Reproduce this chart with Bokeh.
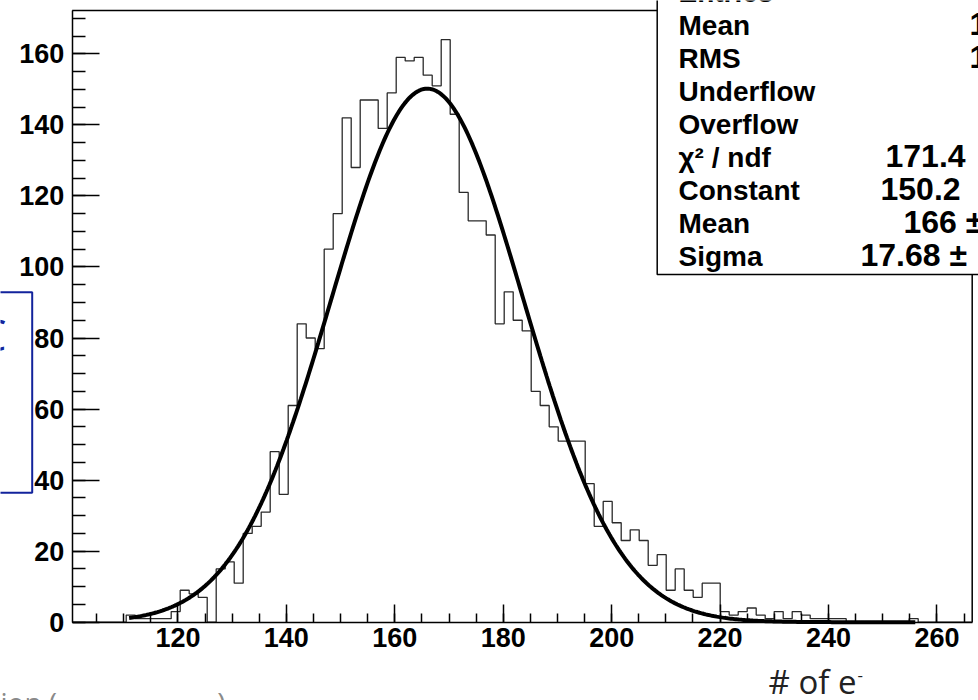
import numpy as np
from bokeh.plotting import figure
from bokeh.models import FixedTicker, Label, BoxAnnotation, Range1d
from bokeh.embed import file_html
from bokeh.resources import INLINE

# ---------------- data ----------------
xmin, xmax, nbins = 100.5, 266.5, 100
counts = [0, 0, 0, 0, 0, 0, 2, 1, 1, 1,
          1, 3, 9, 8, 7, 0, 15, 17, 11, 25,
          27, 31, 48, 36, 61, 84, 80, 77, 105, 115,
          142, 128, 147, 147, 139, 149, 159, 158, 159, 154,
          151, 164, 143, 121, 113, 113, 109, 84, 93, 85,
          82, 65, 61, 55, 51, 51, 51, 39, 27, 34,
          28, 23, 26, 23, 16, 19, 9, 15, 9, 7,
          11, 11, 3, 2, 3, 4, 2, 1, 3, 1,
          3, 2, 1, 1, 1, 1, 0, 0, 0, 0,
          0, 0, 0, 1, 0, 0, 0, 0, 0, 0]
fit_const, fit_mean, fit_sigma = 150.2, 166.0, 17.68
fit_lo, fit_hi = 111.0, 256.0
y_top = 172.2
x_major = [120, 140, 160, 180, 200, 220, 240, 260]
x_minor = list(range(105, 270, 5))
y_major = [0, 20, 40, 60, 80, 100, 120, 140, 160]
y_minor = list(range(0, 175, 5))
stat_names = ["Entries", "Mean", "RMS", "Underflow", "Overflow",
              "\u03c7\u00b2 / ndf", "Constant", "Mean", "Sigma"]
stat_values = ["", "1", "1", "", "", "171.4", "150.2", "166 \u00b1", "17.68 \u00b1"]
x_title = "# of e"
caption = "ion (" + "\u00a0" * 22 + ")"

# ---------------- layout (pixels) ----------------
W, H = 978, 700
PL, PR, PT, PB = 71.7, 971.7, 10.0, 621.7
sx = (xmax - xmin) / (PR - PL)
sy = y_top / (PB - PT)
x_start, x_end = xmin - PL * sx, xmax + (W - PR) * sx
y_start, y_end = -(H - PB) * sy, y_top + PT * sy


def X(px):
    return x_start + px * sx


def Y(py):
    return y_end - py * sy


p = figure(width=W, height=H, x_range=Range1d(x_start, x_end), y_range=Range1d(y_start, y_end),
           output_backend="svg", toolbar_location=None, min_border=0,
           min_border_left=0, min_border_right=0, min_border_top=0, min_border_bottom=0)
p.title.visible = False
p.grid.visible = False
p.background_fill_color = "white"
p.border_fill_color = "white"
p.outline_line_color = None

FONT = "Liberation Sans"
for ax in (p.xaxis[0], p.yaxis[0]):
    ax.axis_line_width = 1.5
    ax.axis_line_color = "black"
    ax.major_tick_line_width = 1.5
    ax.minor_tick_line_width = 1.5
    ax.major_tick_line_color = "black"
    ax.minor_tick_line_color = "black"
    ax.major_tick_out = 0
    ax.minor_tick_out = 0
    ax.major_label_text_font = FONT
    ax.major_label_text_font_style = "bold"
    ax.major_label_text_font_size = "27px"
    ax.major_label_text_color = "black"

p.xaxis.ticker = FixedTicker(ticks=x_major, minor_ticks=x_minor)
p.yaxis.ticker = FixedTicker(ticks=y_major, minor_ticks=y_minor)
p.xaxis.fixed_location = 0
p.yaxis.fixed_location = xmin
p.xaxis.bounds = (xmin, xmax)
p.yaxis.bounds = (0, y_top)
p.xaxis.major_tick_in = 18
p.xaxis.minor_tick_in = 9
p.yaxis.major_tick_in = 27
p.yaxis.minor_tick_in = 13
p.xaxis.major_label_standoff = 6
p.yaxis.major_label_standoff = 8

# frame (top / right edges)
p.line([xmin, xmax, xmax], [y_top, y_top, 0], line_color="black", line_width=1.5)

# histogram outline
edges = np.linspace(xmin, xmax, nbins + 1)
hx = np.repeat(edges, 2)
hy = np.concatenate([[0], np.repeat(np.array(counts, dtype=float), 2), [0]])
p.line(hx, hy, line_color="#2a2a2a", line_width=1.3)

# gaussian fit
fx = np.linspace(fit_lo, fit_hi, 500)
fy = fit_const * np.exp(-0.5 * ((fx - fit_mean) / fit_sigma) ** 2)
p.line(fx, fy, line_color="black", line_width=4)


def text(px, base_py, s, size, font=FONT, bold=False, color="black", align="left"):
    # position given by the text baseline in pixels; labels are anchored at their middle
    p.add_layout(Label(x=X(px), y=Y(base_py - 0.37 * size), text=s, text_font=font,
                       text_font_style="bold" if bold else "normal",
                       text_font_size=f"{size}px", text_color=color, text_align=align,
                       text_baseline="middle", level="overlay"))


# stats box
p.add_layout(BoxAnnotation(left=X(656.7), right=X(1000), top=Y(-30), bottom=Y(274),
                           fill_color="white", fill_alpha=1.0,
                           line_color="black", line_alpha=1.0, line_width=1.5, level="overlay"))
baselines = [2, 35, 68, 101, 134, 167, 200, 233, 266]
val_x = [0, 969, 969, 0, 0, 885, 880, 903, 860]
for name, val, by, vx in zip(stat_names, stat_values, baselines, val_x):
    text(678, by, name, 28, bold=True)
    if val:
        text(vx, by, val, 32, bold=True)

# blue overlay box at left
p.add_layout(BoxAnnotation(left=X(-20), right=X(31.7), top=Y(291.7), bottom=Y(492.3),
                           fill_alpha=0, line_color="#12239c", line_alpha=1.0,
                           line_width=2, level="overlay"))
text(6, 350, "C", 44, font="Open Sans", color="#12239c", align="right")

# cut caption at the bottom left
text(0, 712, caption, 28, font="Open Sans", color="#8a8a8a")

# x title
text(768, 693, x_title, 33, font="Open Sans", color="#222222")
text(857, 681, "-", 17, font="Open Sans", color="#222222")

open("out.html", "w").write(file_html(p, INLINE))
